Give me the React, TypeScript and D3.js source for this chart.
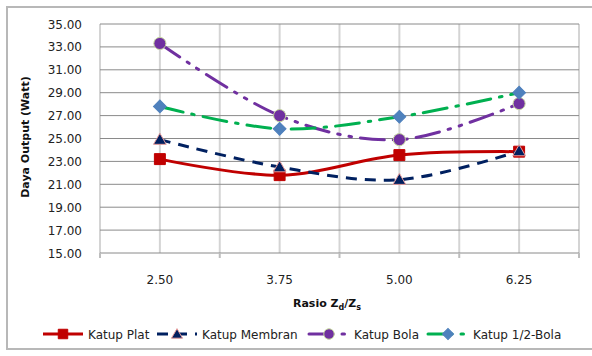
import React, { useEffect, useRef } from 'react';
import * as d3 from 'd3';

const categories = ['2.50', '3.75', '5.00', '6.25'];
const yTicks = [15, 17, 19, 21, 23, 25, 27, 29, 31, 33, 35];

const katupPlat = [23.2, 21.8, 23.55, 23.85];
const katupMembran = [24.9, 22.5, 21.4, 23.9];
const katupBola = [33.3, 27.0, 24.9, 28.05];
const katupSetengahBola = [27.8, 25.85, 26.9, 29.0];

const seriesNames = ['Katup Plat', 'Katup Membran', 'Katup Bola', 'Katup 1/2-Bola'];

type Series = {
  name: string;
  values: number[];
  color: string;
  dash: string | null;
  marker: 'square' | 'triangle' | 'circle' | 'diamond';
  fill: string;
  stroke: string;
};

const series: Series[] = [
  { name: seriesNames[0], values: katupPlat, color: '#c00000', dash: null, marker: 'square', fill: '#c00000', stroke: '#c00000' },
  { name: seriesNames[1], values: katupMembran, color: '#002060', dash: '11,8', marker: 'triangle', fill: '#002060', stroke: '#e49a9a' },
  { name: seriesNames[2], values: katupBola, color: '#7030a0', dash: '24,9,2.5,9,2.5,9', marker: 'circle', fill: '#7030a0', stroke: '#c3d69b' },
  { name: seriesNames[3], values: katupSetengahBola, color: '#00b050', dash: '24,9,2.5,9', marker: 'diamond', fill: '#4f81bd', stroke: '#4f81bd' },
];

const W = 592;
const H = 356;
const plot = { left: 100, right: 579, top: 24, bottom: 253 };
const font = '"DejaVu Sans", Verdana, sans-serif';

function drawMarker(g: d3.Selection<SVGGElement, unknown, null, undefined>, s: Series, x: number, y: number, scale = 1) {
  const sym = {
    square: d3.symbolSquare,
    triangle: d3.symbolTriangle,
    circle: d3.symbolCircle,
    diamond: d3.symbolSquare,
  }[s.marker];
  const size = { square: 120, triangle: 70, circle: 115, diamond: 82 }[s.marker] * scale;
  const rot = s.marker === 'diamond' ? ' rotate(45)' : '';
  g.append('path')
    .attr('d', d3.symbol(sym, size)())
    .attr('transform', `translate(${x},${y + (s.marker === 'triangle' ? 1 : 0)})${rot}`)
    .attr('fill', s.fill)
    .attr('stroke', s.stroke)
    .attr('stroke-width', 1);
}

export default function App() {
  const svgRef = useRef<SVGSVGElement>(null);

  useEffect(() => {
    if (!svgRef.current) return;
    const svg = d3.select(svgRef.current);
    svg.selectAll('*').remove();

    const x = d3.scaleBand().domain(categories).range([plot.left, plot.right]);
    const cx = (c: string) => (x(c) || 0) + x.bandwidth() / 2;
    const y = d3.scaleLinear().domain([15, 35]).range([plot.bottom, plot.top]);

    // outer frame
    svg.append('rect')
      .attr('x', 7).attr('y', 7).attr('width', W + 10).attr('height', H - 10 - 4)
      .attr('fill', 'white').attr('stroke', '#b8b8b8').attr('stroke-width', 2);

    const grid = svg.append('g');
    // vertical gridlines at boundaries and centres
    const vx: number[] = [];
    categories.forEach(c => {
      vx.push(x(c) || 0);
      vx.push(cx(c));
    });
    vx.push(plot.right);
    grid.selectAll('line.v').data(vx).enter().append('line')
      .attr('x1', d => d).attr('x2', d => d)
      .attr('y1', plot.top).attr('y2', plot.bottom)
      .attr('stroke', '#d4d4d4').attr('stroke-width', 2);

    grid.selectAll('line.h').data(yTicks).enter().append('line')
      .attr('x1', plot.left).attr('x2', plot.right)
      .attr('y1', d => y(d)).attr('y2', d => y(d))
      .attr('stroke', '#8a8a8a').attr('stroke-width', 1);

    // x tick marks below axis
    const bounds = categories.map(c => x(c) || 0).concat([plot.right]);
    grid.selectAll('line.t').data(bounds).enter().append('line')
      .attr('x1', d => d).attr('x2', d => d)
      .attr('y1', plot.bottom).attr('y2', plot.bottom + 5)
      .attr('stroke', '#bdbdbd').attr('stroke-width', 2);

    // tick labels
    svg.append('g').selectAll('text').data(yTicks).enter().append('text')
      .attr('x', 82).attr('y', d => y(d) + 4.5)
      .attr('text-anchor', 'end')
      .style('font-family', font).style('font-size', '12px').attr('fill', '#222')
      .text(d => d.toFixed(2));

    svg.append('g').selectAll('text').data(categories).enter().append('text')
      .attr('x', d => cx(d)).attr('y', 284)
      .attr('text-anchor', 'middle')
      .style('font-family', font).style('font-size', '12px').attr('fill', '#222')
      .text(d => d);

    // axis titles
    svg.append('text')
      .attr('transform', `translate(29,137) rotate(-90)`)
      .attr('text-anchor', 'middle')
      .style('font-family', font).style('font-size', '11px').style('font-weight', 'bold').attr('fill', '#111')
      .text('Daya Output (Watt)');

    const xt = svg.append('text')
      .attr('x', 327).attr('y', 307)
      .attr('text-anchor', 'middle')
      .style('font-family', font).style('font-size', '11px').style('font-weight', 'bold').attr('fill', '#111');
    xt.append('tspan').text('Rasio Z');
    xt.append('tspan').attr('dy', 3).style('font-size', '8px').text('d');
    xt.append('tspan').attr('dy', -3).text('/Z');
    xt.append('tspan').attr('dy', 3).style('font-size', '8px').text('s');

    // series
    const line = d3.line<number>()
      .x((_, i) => cx(categories[i]))
      .y(d => y(d))
      .curve(d3.curveCatmullRom.alpha(0));

    series.forEach(s => {
      const g = svg.append('g');
      g.append('path')
        .datum(s.values)
        .attr('d', line)
        .attr('fill', 'none')
        .attr('stroke', s.color)
        .attr('stroke-width', 3)
        .attr('stroke-linecap', s.dash && s.dash.split(',').length > 2 ? 'round' : 'butt')
        .attr('stroke-dasharray', s.dash);
      s.values.forEach((v, i) => drawMarker(g, s, cx(categories[i]), y(v)));
    });

    // legend
    const legendX = [43, 157, 309, 428];
    const ly = 334;
    series.forEach((s, i) => {
      const g = svg.append('g');
      const x0 = legendX[i];
      g.append('line')
        .attr('x1', x0).attr('x2', x0 + 40)
        .attr('y1', ly).attr('y2', ly)
        .attr('stroke', s.color).attr('stroke-width', 3)
        .attr('stroke-linecap', s.dash && s.dash.split(',').length > 2 ? 'round' : 'butt')
        .attr('stroke-dasharray', s.dash);
      drawMarker(g, s, x0 + 20, ly, 0.75);
      g.append('text')
        .attr('x', x0 + 45).attr('y', ly + 4.5)
        .style('font-family', font).style('font-size', '12px').attr('fill', '#222')
        .text(s.name);
    });
  }, []);

  return (
    <div style={{ position: 'absolute', left: 0, top: 0, width: W, height: H, background: 'white' }}>
      <svg ref={svgRef} width={W} height={H} style={{ display: 'block' }} />
    </div>
  );
}
